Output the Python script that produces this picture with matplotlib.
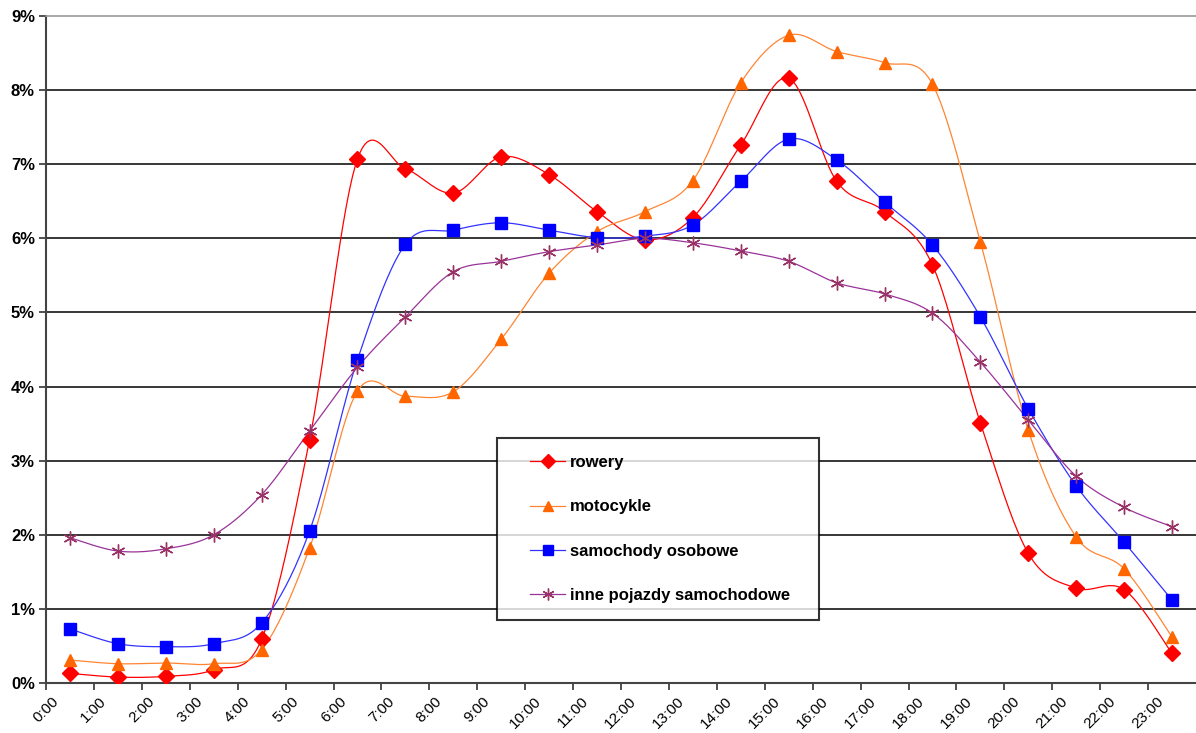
import numpy as np
import matplotlib
matplotlib.use('Agg')
import matplotlib.pyplot as plt
from matplotlib.legend_handler import HandlerLine2D

plt.rcParams['font.family'] = ['Liberation Sans', 'DejaVu Sans']

# godziny (srodek przedzialu)
hours = np.arange(24) + 0.5
hour_labels = [f'{h}:00' for h in range(24)]

rowery = [0.13, 0.08, 0.09, 0.18, 0.59, 3.28, 7.07, 6.94, 6.61, 7.10, 6.86, 6.36,
          5.98, 6.28, 7.26, 8.16, 6.77, 6.36, 5.64, 3.51, 1.75, 1.28, 1.26, 0.40]
motocykle = [0.31, 0.26, 0.27, 0.26, 0.45, 1.82, 3.94, 3.87, 3.93, 4.64, 5.53, 6.09,
             6.36, 6.78, 8.10, 8.74, 8.52, 8.37, 8.08, 5.95, 3.41, 1.97, 1.54, 0.62]
samochody = [0.73, 0.53, 0.49, 0.53, 0.81, 2.05, 4.36, 5.92, 6.11, 6.21, 6.11, 6.01,
             6.03, 6.18, 6.77, 7.34, 7.06, 6.49, 5.91, 4.94, 3.70, 2.66, 1.90, 1.12]
inne = [1.96, 1.78, 1.81, 2.00, 2.54, 3.40, 4.26, 4.94, 5.55, 5.69, 5.82, 5.91,
        6.00, 5.94, 5.83, 5.69, 5.40, 5.25, 4.99, 4.33, 3.55, 2.79, 2.37, 2.11]


def smooth(x, y, n=20):
    # wygladzanie jak w Excelu (Catmull-Rom)
    p = np.column_stack([x, y])
    p = np.vstack([p[0], p, p[-1]])
    out = []
    t = np.linspace(0, 1, n, endpoint=False)[:, None]
    for i in range(1, len(p) - 2):
        p0, p1, p2, p3 = p[i - 1], p[i], p[i + 1], p[i + 2]
        c1 = p1 + (p2 - p0) / 6
        c2 = p2 - (p3 - p1) / 6
        seg = ((1 - t) ** 3) * p1 + 3 * ((1 - t) ** 2) * t * c1 + 3 * (1 - t) * t ** 2 * c2 + t ** 3 * p2
        out.append(seg)
    out.append(p[-2][None, :])
    out = np.vstack(out)
    return out[:, 0], out[:, 1]


class ShiftedLine(HandlerLine2D):
    # przesuniecie znacznika legendy w prawo
    def __init__(self, shift, **kw):
        super().__init__(**kw)
        self.shift = shift

    def create_artists(self, legend, orig_handle, xdescent, ydescent, width,
                       height, fontsize, trans):
        return super().create_artists(legend, orig_handle, xdescent - self.shift,
                                      ydescent, width - self.shift, height,
                                      fontsize, trans)


fig = plt.figure(figsize=(11.96, 7.33), dpi=100)
ax = fig.add_axes([46 / 1196, 50 / 733, 1150 / 1196, 667 / 733])

series = [
    ('rowery', rowery, '#FF0000', '#FF0000', 'D', 8),
    ('motocykle', motocykle, '#FF8533', '#FF6600', '^', 9),
    ('samochody osobowe', samochody, '#3333FF', '#0000FF', 's', 9),
    ('inne pojazdy samochodowe', inne, '#993399', '#993366', (6, 2, 0), 10),
]

handles = []
for name, vals, lc, mc, mk, ms in series:
    sx, sy = smooth(hours, vals)
    ax.plot(sx, sy, color=lc, lw=0.9, zorder=3)
    ax.plot(hours, vals, ls='none', marker=mk, ms=ms, color=mc, mec=mc,
            mew=1.0, zorder=4)
    h, = ax.plot([], [], color=lc, lw=0.9, marker=mk, ms=ms * 0.85, mfc=mc, mec=mc,
                 label=name)
    handles.append(h)

ax.set_xlim(0, 24)
ax.set_ylim(0, 9)
ax.set_xticks(range(24))
ax.set_xticklabels(hour_labels, rotation=45, ha='center', va='top', fontsize=11)
ax.set_yticks(range(10))
ax.set_yticklabels([f'{v}%' for v in range(10)], fontsize=12, fontweight='bold')
ax.tick_params(axis='both', direction='out', length=5, width=1.2, color='#333333')
ax.tick_params(axis='x', pad=3)
ax.tick_params(axis='y', pad=3)

for v in range(1, 9):
    ax.axhline(v, color='black', lw=1.1, zorder=1)

for s in ['left', 'bottom']:
    ax.spines[s].set_color('#444444')
    ax.spines[s].set_linewidth(1.5)
ax.spines['right'].set_visible(False)
ax.spines['top'].set_color('#999999')
ax.spines['top'].set_linewidth(1.2)

hmap = {h: ShiftedLine(11.7) for h in handles}
leg = ax.legend(handles=handles, loc='upper left',
                bbox_to_anchor=(451 / 1150, (683 - 438) / 667, 322 / 1150, 0.0),
                mode='expand', borderaxespad=0, frameon=True, fancybox=False,
                edgecolor='black', handlelength=3.07, handletextpad=0.3,
                labelspacing=1.76, borderpad=1.02, handler_map=hmap,
                prop={'weight': 'bold', 'size': 12})
leg.get_frame().set_linewidth(1.5)
leg.set_zorder(10)

fig.savefig('out.png', dpi=100)
